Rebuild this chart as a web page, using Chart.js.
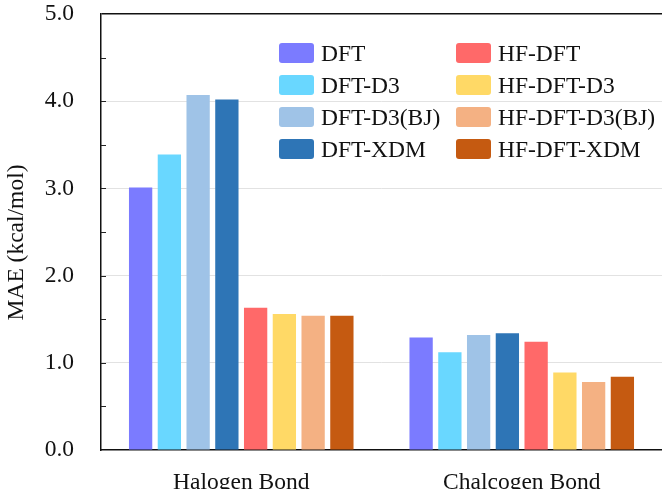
<!DOCTYPE html>
<html>
<head>
<meta charset="utf-8">
<script src="https://cdn.jsdelivr.net/npm/chart.js@4"></script>
<style>
html, body { margin: 0; padding: 0; background: #fff; }
#wrap { position: relative; width: 662px; height: 489px; }
#legend {
  position: absolute; left: 279px; top: 37px;
  display: grid; grid-template-columns: 177px auto;
  grid-template-rows: repeat(4, 32px); grid-auto-flow: column;
  font: 23.5px "Liberation Serif", serif; color: #111;
}
.item { display: flex; align-items: center; white-space: nowrap; }
.box { width: 35px; height: 20px; border-radius: 3px; margin-right: 7px; }
</style>
</head>
<body>
<div id="wrap">
  <canvas id="chart" width="662" height="489"></canvas>
  <div id="legend"></div>
</div>
<script>
// ===== DATA =====
const categories = ["Halogen Bond", "Chalcogen Bond"];
const methods = ["DFT", "DFT-D3", "DFT-D3(BJ)", "DFT-XDM", "HF-DFT", "HF-DFT-D3", "HF-DFT-D3(BJ)", "HF-DFT-XDM"];
const colors = ["#7b7bff", "#69d7ff", "#9fc3e7", "#2e75b6", "#ff6969", "#ffd966", "#f4b183", "#c55a11"];
const halogen = [3.01, 3.39, 4.07, 4.02, 1.63, 1.56, 1.54, 1.54];
const chalcogen = [1.29, 1.12, 1.32, 1.34, 1.24, 0.89, 0.78, 0.84];
const yTitle = "MAE (kcal/mol)";

const FONT = { family: '"Liberation Serif", serif', size: 23.5 };

// inward minor/major ticks on the y axis + axis title centred on the canvas
const axisExtras = {
  id: 'axisExtras',
  afterDraw(chart) {
    const y = chart.scales.y, ctx = chart.ctx, left = chart.chartArea.left;
    ctx.save();
    ctx.strokeStyle = '#222';
    ctx.lineWidth = 1;
    y.ticks.forEach(t => {
      if (t.value <= 0 || t.value >= 5) return;
      const py = Math.round(y.getPixelForValue(t.value)) + 0.5;
      ctx.beginPath(); ctx.moveTo(left, py); ctx.lineTo(left + 5, py); ctx.stroke();
    });
    // title
    ctx.translate(17, chart.height / 2 - 2);
    ctx.rotate(-Math.PI / 2);
    ctx.fillStyle = '#111';
    ctx.font = `${FONT.size}px ${FONT.family}`;
    ctx.textAlign = 'center';
    ctx.textBaseline = 'middle';
    ctx.fillText(yTitle, 0, 0);
    ctx.restore();
  }
};

const chart = new Chart(document.getElementById('chart'), {
  type: 'bar',
  data: {
    labels: categories,
    datasets: methods.map((m, i) => ({
      label: m,
      data: [halogen[i], chalcogen[i]],
      backgroundColor: colors[i],
      categoryPercentage: 0.82,
      barPercentage: 0.81
    }))
  },
  options: {
    responsive: false,
    animation: false,
    layout: { padding: 0 },
    plugins: { legend: { display: false }, tooltip: { enabled: false } },
    scales: {
      x: {
        grid: { display: false },
        border: { color: '#111', width: 1.5 },
        ticks: { color: '#111', font: FONT, padding: 11 },
        afterFit(s) { s.height = 39; s.paddingLeft = 0; s.paddingRight = 0; }
      },
      y: {
        min: 0, max: 5,
        ticks: {
          stepSize: 0.5, color: '#111', font: FONT, padding: 27,
          callback: v => (v % 1 === 0 ? v.toFixed(1) : '')
        },
        grid: {
          drawTicks: false,
          color: c => (c.tick.value === 5 ? '#111' : (c.tick.value % 1 === 0 && c.tick.value > 0 ? '#e2e2e2' : 'rgba(0,0,0,0)')),
          lineWidth: c => (c.tick.value === 5 ? 1.5 : 1)
        },
        border: { color: '#111', width: 1.5 },
        afterFit(s) { s.width = 101; s.paddingTop = 14; s.paddingBottom = 0; }
      }
    }
  },
  plugins: [axisExtras]
});

// ===== LEGEND =====
const legend = document.getElementById('legend');
chart.data.datasets.forEach(ds => {
  const item = document.createElement('div');
  item.className = 'item';
  item.innerHTML = `<span class="box" style="background:${ds.backgroundColor}"></span><span>${ds.label}</span>`;
  legend.appendChild(item);
});
</script>
</body>
</html>
